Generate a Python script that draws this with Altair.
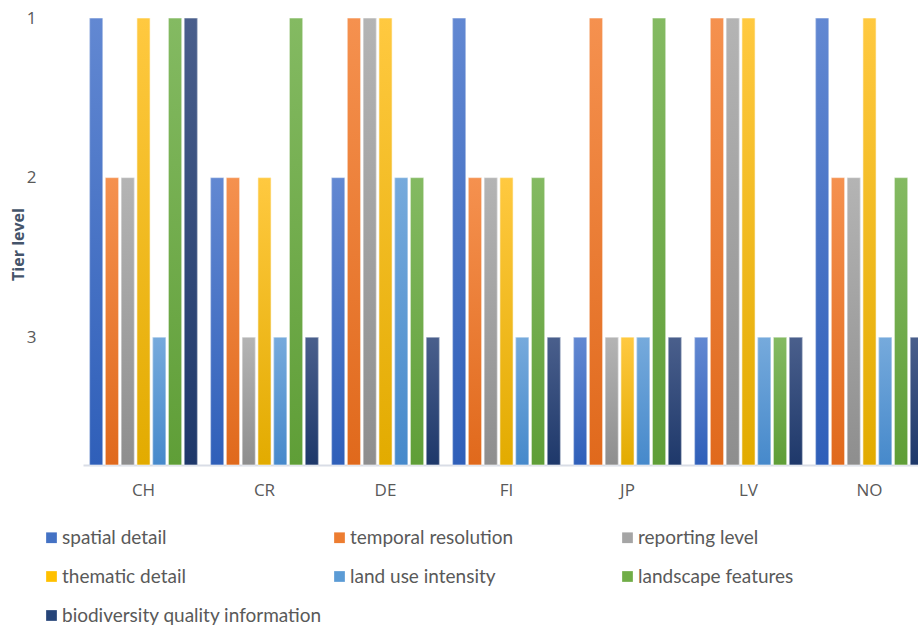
import altair as alt
import pandas as pd

countries = ["CH", "CR", "DE", "FI", "JP", "LV", "NO"]
series = ["spatial detail", "temporal resolution", "reporting level",
          "thematic detail", "land use intensity", "landscape features",
          "biodiversity quality information"]
# tier level per series, one value per country (CH, CR, DE, FI, JP, LV, NO)
spatial_detail = [1, 2, 2, 1, 3, 3, 1]
temporal_resolution = [2, 2, 1, 2, 1, 1, 2]
reporting_level = [2, 3, 1, 2, 3, 1, 2]
thematic_detail = [1, 2, 1, 2, 3, 1, 1]
land_use_intensity = [3, 3, 2, 3, 3, 3, 3]
landscape_features = [1, 1, 2, 2, 1, 3, 2]
biodiversity_quality = [1, 3, 3, 3, 3, 3, 3]

values = [spatial_detail, temporal_resolution, reporting_level, thematic_detail,
          land_use_intensity, landscape_features, biodiversity_quality]
colors = ["#4472C4", "#ED7D31", "#A5A5A5", "#FFC000", "#5B9BD5", "#70AD47", "#264478"]
tops = ["#6288D2", "#F5914F", "#B4B4B4", "#FFC940", "#76AADC", "#84BA62", "#4A5F8C"]
bottoms = ["#2F5FB9", "#E0691C", "#8E8E8E", "#E2AB00", "#4689CB", "#5F9E37", "#1E386A"]

rows = []
for s, vals in zip(series, values):
    for c, v in zip(countries, vals):
        rows.append({"country": c, "series": s, "tier": v})
df = pd.DataFrame(rows)

BASE = 3.8
FONT = "Lato"
TXT = "#595959"

x_enc = alt.X("country:N", sort=countries,
              scale=alt.Scale(domain=countries, range=[0, 847], paddingInner=0, paddingOuter=0),
              axis=alt.Axis(title=None, labelAngle=0, labelFontSize=17, labelColor=TXT,
                            labelFont="Open Sans", labelPadding=17, ticks=False,
                            domainColor="#D9DDE6", domainWidth=2, grid=False))
xo_enc = alt.XOffset("series:N", sort=series,
                     scale=alt.Scale(domain=series, paddingInner=0.17, paddingOuter=0.42))
y_enc = alt.Y("tier:Q",
              scale=alt.Scale(domain=[1, BASE], reverse=True, zero=False, nice=False),
              axis=alt.Axis(title="Tier level", values=[1, 2, 3], format="d",
                            labelFontSize=17, labelColor=TXT, labelFont="Open Sans",
                            labelPadding=47, ticks=False, domain=False, grid=False,
                            titleFontSize=16, titleFontWeight="bold", titleColor="#44546A",
                            titleFont="Open Sans", titleAngle=-90, titleX=-65, titleY=226,
                            titleAlign="center", titleBaseline="middle"))

base = alt.Chart(df).mark_bar().encode(
    x=x_enc,
    xOffset=xo_enc,
    y=y_enc,
    y2=alt.datum(BASE),
    color=alt.Color("series:N", sort=series,
                    scale=alt.Scale(domain=series, range=colors),
                    legend=alt.Legend(title=None, orient="none", direction="horizontal",
                                      legendX=-41, legendY=510,
                                      columns=3, columnPadding=7, rowPadding=19,
                                      gridAlign="all", symbolType="square", symbolSize=115,
                                      symbolStrokeWidth=0, labelFontSize=19, labelFont=FONT,
                                      labelColor=TXT, labelOffset=1, labelLimit=400,
                                      padding=0)),
)

layers = [base]
for s, t, b in zip(series, tops, bottoms):
    grad = alt.Gradient(gradient="linear",
                        stops=[alt.GradientStop(color=t, offset=0),
                               alt.GradientStop(color=b, offset=1)],
                        x1=0, x2=0, y1=0, y2=1)
    layers.append(
        alt.Chart(df).transform_filter(alt.datum.series == s)
        .mark_bar(fill=grad, stroke="#FFFFFF", strokeOpacity=0.55, strokeWidth=1)
        .encode(x=x_enc, xOffset=xo_enc, y=y_enc, y2=alt.datum(BASE))
    )

chart = alt.layer(*layers).properties(
    width=835, height=447,
    autosize=alt.AutoSizeParams(type="none"),
    padding={"left": 83, "top": 18, "right": 0, "bottom": 160},
).configure_view(stroke=None)

chart.save("out.html", embed_options={"renderer": "svg", "actions": False})
